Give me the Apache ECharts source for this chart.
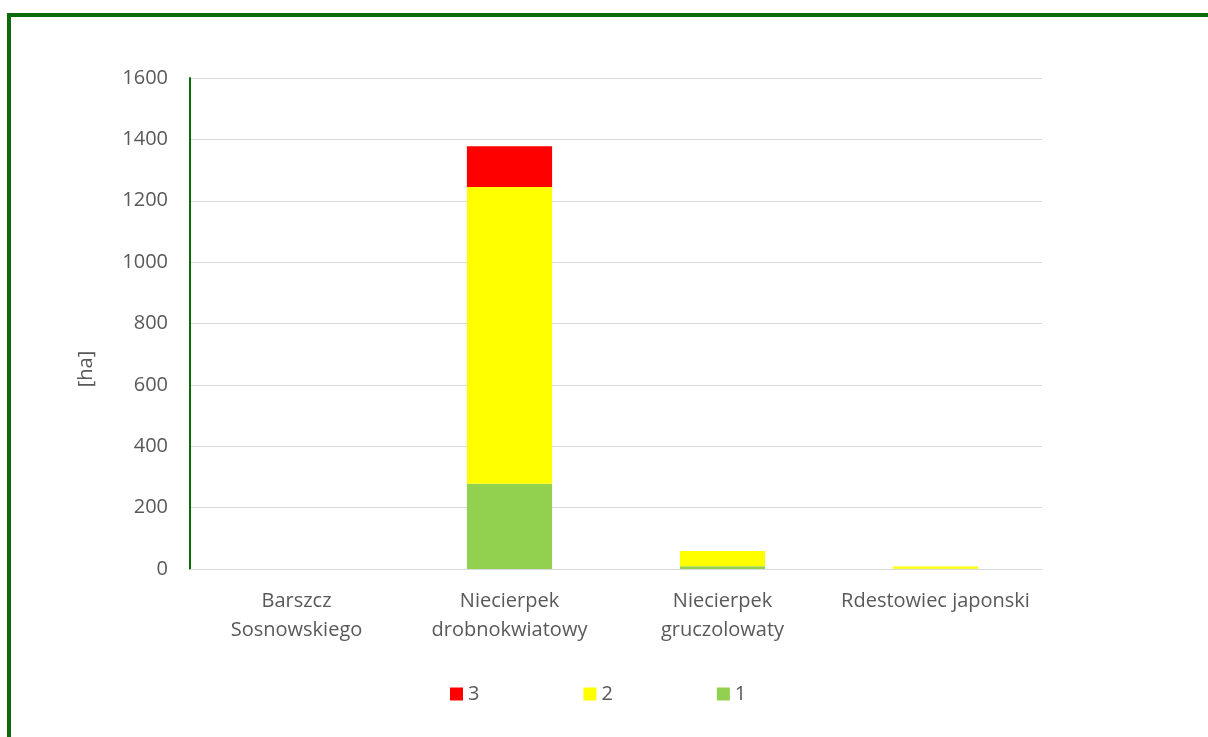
<!DOCTYPE html>
<html>
<head>
<meta charset="utf-8">
<script src="https://cdn.jsdelivr.net/npm/echarts@6/dist/echarts.min.js"></script>
<style>
    html, body { margin: 0; padding: 0; background: #fff; }
    #chart { width: 1208px; height: 737px; }
</style>
</head>
<body>
<div id="chart"></div>
<script>
    // dane [ha]
    const categories = ['Barszcz\nSosnowskiego', 'Niecierpek\ndrobnokwiatowy', 'Niecierpek\ngruczolowaty', 'Rdestowiec japonski'];
    const class1 = [0, 278, 9, 0.5];
    const class2 = [0, 967, 50, 8];
    const class3 = [0, 133, 0, 0];
    const legendNames = ['3', '2', '1'];

    const font = '"Open Sans", "Liberation Sans", sans-serif';
    const textColor = '#595959';

    const myChart = echarts.init(document.getElementById('chart'));
    const option = {
        animation: false,
        graphic: [{
            // ramka wokół wykresu
            type: 'rect',
            shape: { x: 9, y: 15, width: 1260, height: 800 },
            style: { fill: 'none', stroke: '#0b6b0b', lineWidth: 4 }
        }, {
            // nazwa osi Y
            type: 'text',
            x: 86,
            y: 369,
            rotation: Math.PI / 2,
            style: {
                text: '[ha]',
                fill: textColor,
                font: '20px ' + font,
                align: 'center',
                verticalAlign: 'middle'
            }
        }],
        grid: { left: 190, right: 166, top: 78, bottom: 168 },
        legend: {
            data: legendNames,
            top: 679,
            left: 445,
            itemWidth: 13,
            itemHeight: 13,
            itemGap: 104,
            icon: 'rect',
            textStyle: { color: textColor, fontSize: 20, fontFamily: font }
        },
        xAxis: {
            type: 'category',
            data: categories,
            axisLine: { lineStyle: { color: '#d9d9d9', width: 1 } },
            axisTick: { show: false },
            axisLabel: { color: textColor, fontSize: 20, fontFamily: font, lineHeight: 29, margin: 18, interval: 0 }
        },
        yAxis: {
            type: 'value',
            min: 0,
            max: 1600,
            interval: 200,
            axisLine: { show: true, lineStyle: { color: '#0b6b0b', width: 2 } },
            axisTick: { show: false },
            axisLabel: { color: textColor, fontSize: 20, fontFamily: font, margin: 22, formatter: v => String(v) },
            splitLine: { lineStyle: { color: '#d9d9d9', width: 1 } }
        },
        series: [{
            name: '1',
            type: 'bar',
            stack: 'a',
            barWidth: '40%',
            data: class1,
            itemStyle: { color: '#92d050' }
        }, {
            name: '2',
            type: 'bar',
            stack: 'a',
            data: class2,
            itemStyle: { color: '#ffff00' }
        }, {
            name: '3',
            type: 'bar',
            stack: 'a',
            data: class3,
            itemStyle: { color: '#ff0000' }
        }]
    };
    myChart.setOption(option);
</script>
</body>
</html>
